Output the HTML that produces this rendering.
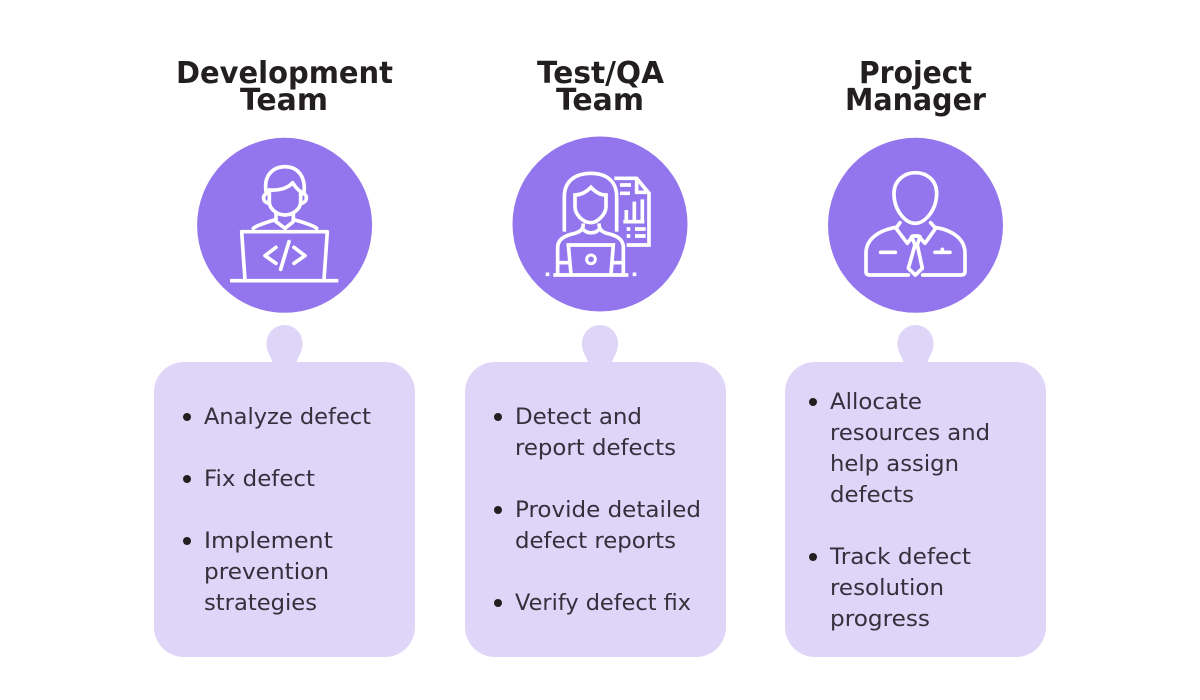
<!DOCTYPE html>
<html>
<head>
<meta charset="utf-8">
<style>
html,body{margin:0;padding:0;background:#fff;width:1200px;height:700px;overflow:hidden}
svg{display:block}
.t{font-family:"DejaVu Sans","Liberation Sans",sans-serif;font-weight:700;font-size:30px;fill:#231f20}
.b{font-family:"DejaVu Sans","Liberation Sans",sans-serif;font-size:22px;fill:#372f3c}
.i{fill:none;stroke:#fff;stroke-width:11;stroke-linecap:round;stroke-linejoin:round}
.s{stroke-linecap:butt;stroke-linejoin:miter}
</style>
</head>
<body>
<svg width="1200" height="700" viewBox="0 0 1200 700" xmlns="http://www.w3.org/2000/svg">
<rect width="1200" height="700" fill="#fff"/>

<text class="t" x="176" y="83" textLength="217" lengthAdjust="spacingAndGlyphs">Development</text>
<text class="t" x="240" y="110" textLength="88" lengthAdjust="spacingAndGlyphs">Team</text>
<text class="t" x="537" y="83" textLength="127" lengthAdjust="spacingAndGlyphs">Test/QA</text>
<text class="t" x="556" y="110" textLength="88" lengthAdjust="spacingAndGlyphs">Team</text>
<text class="t" x="859" y="83" textLength="113" lengthAdjust="spacingAndGlyphs">Project</text>
<text class="t" x="845" y="110" textLength="141" lengthAdjust="spacingAndGlyphs">Manager</text>

<circle cx="284.600" cy="225.300" r="87.500" fill="#9376ed"/>
<circle cx="600" cy="224" r="87.500" fill="#9376ed"/>
<circle cx="915.500" cy="225.300" r="87.500" fill="#9376ed"/>

<g transform="translate(190 130) scale(.3333)" class="i">
<path d="M228 185C220 130 255 110 285 110C320 110 348 135 342 190"/>
<path d="M238 180C265 182 295 175 308 158C315 170 325 180 332 185"/>
<path d="M238 180V215C238 240 265 255 285 255C305 255 332 240 332 215V185"/>
<path d="M234 190C216 192 216 216 236 220M336 190C354 192 354 216 334 220"/>
<path d="M258 250V275L285 295L310 275V250"/>
<path d="M190 295C200 285 240 275 258 268M310 268C330 275 370 285 380 295"/>
<path d="M165 450L155 305H412L402 450"/>
<path d="M120 452H445" stroke-linecap="butt"/>
<path d="M258 352L225 377L258 400M312 352L345 377L312 400M297 335L272 418"/>
</g>

<g transform="translate(505 130) scale(.3333)" class="i s">
<path d="M178 305V200C178 150 215 130 258 130C300 130 335 150 335 200V305"/>
<path d="M210 195C230 195 245 185 258 172C270 185 285 195 303 195V230C303 255 275 278 258 278C235 278 210 255 210 230Z"/>
<path d="M235 280C235 300 225 305 210 310C185 315 158 325 158 352V430"/>
<path d="M282 280C282 300 292 305 305 310C330 315 355 325 355 352V430"/>
<path d="M235 298C245 312 272 312 282 298"/>
<path d="M198 432L190 345H325L318 432"/>
<circle cx="258" cy="388" r="13" stroke-width="9"/>
<path d="M145 435H370"/>
<path d="M122 433H133M383 433H394"/>
<path d="M158 398H190M325 398H355"/>
<path d="M328 145H395L432 190V345H365M395 145V187H432"/>
<path d="M345 165H378M345 190H375"/>
<path d="M355 275H418M364 275V240M388 275V215M412 275V208"/>
<path d="M365 297H376M390 297H422M365 318H376M390 318H422"/>
</g>

<g transform="translate(820 130) scale(.3333)" class="i">
<path d="M286 128C320 128 350 150 350 190C350 240 315 280 286 280C255 280 222 240 222 190C222 150 255 128 286 128Z"/>
<path d="M240 278L228 295L262 340L278 318H295L315 340L347 295L332 278"/>
<path d="M228 292C180 300 138 325 138 370V425Q138 435 150 435H265"/>
<path d="M345 292C395 300 435 325 435 370V425Q435 435 422 435H308"/>
<path d="M275 320L285 345L265 415L286 435L307 415L292 345L300 320"/>
<path d="M182 367H226M345 367H390M367 358V365"/>
</g>

<g fill="#ded5f9">
<rect x="154" y="362" width="261" height="295" rx="30"/>
<rect x="465" y="362" width="261" height="295" rx="30"/>
<rect x="785" y="362" width="261" height="295" rx="30"/>
<path d="M273 363L270 356C267 351 266.500 347 266.500 343A18 18 0 0 1 302.500 343C302.500 347 302 351 299 356L296 363Z"/>
<path transform="translate(315.500 0)" d="M273 363L270 356C267 351 266.500 347 266.500 343A18 18 0 0 1 302.500 343C302.500 347 302 351 299 356L296 363Z"/>
<path transform="translate(631 0)" d="M273 363L270 356C267 351 266.500 347 266.500 343A18 18 0 0 1 302.500 343C302.500 347 302 351 299 356L296 363Z"/>
</g>

<g fill="#231f20">
<circle cx="187" cy="417" r="4"/>
<circle cx="187" cy="479" r="4"/>
<circle cx="187" cy="541" r="4"/>
<circle cx="498" cy="417" r="4"/>
<circle cx="498" cy="510" r="4"/>
<circle cx="498" cy="603" r="4"/>
<circle cx="813" cy="402" r="4"/>
<circle cx="813" cy="557" r="4"/>
</g>

<text class="b" x="204" y="424" textLength="167" lengthAdjust="spacingAndGlyphs">Analyze defect</text>
<text class="b" x="204" y="486" textLength="111" lengthAdjust="spacingAndGlyphs">Fix defect</text>
<text class="b" x="204" y="548" textLength="129" lengthAdjust="spacingAndGlyphs">Implement</text>
<text class="b" x="204" y="579" textLength="125" lengthAdjust="spacingAndGlyphs">prevention</text>
<text class="b" x="204" y="610" textLength="113" lengthAdjust="spacingAndGlyphs">strategies</text>

<text class="b" x="515" y="424" textLength="127" lengthAdjust="spacingAndGlyphs">Detect and</text>
<text class="b" x="515" y="455" textLength="161" lengthAdjust="spacingAndGlyphs">report defects</text>
<text class="b" x="515" y="517" textLength="186" lengthAdjust="spacingAndGlyphs">Provide detailed</text>
<text class="b" x="515" y="548" textLength="161" lengthAdjust="spacingAndGlyphs">defect reports</text>
<text class="b" x="515" y="610" textLength="176" lengthAdjust="spacingAndGlyphs">Verify defect fix</text>

<text class="b" x="830" y="409" textLength="92" lengthAdjust="spacingAndGlyphs">Allocate</text>
<text class="b" x="830" y="440" textLength="160" lengthAdjust="spacingAndGlyphs">resources and</text>
<text class="b" x="830" y="471" textLength="129" lengthAdjust="spacingAndGlyphs">help assign</text>
<text class="b" x="830" y="502" textLength="84" lengthAdjust="spacingAndGlyphs">defects</text>
<text class="b" x="830" y="564" textLength="141" lengthAdjust="spacingAndGlyphs">Track defect</text>
<text class="b" x="830" y="595" textLength="114" lengthAdjust="spacingAndGlyphs">resolution</text>
<text class="b" x="830" y="626" textLength="100" lengthAdjust="spacingAndGlyphs">progress</text>
</svg>
</body>
</html>
